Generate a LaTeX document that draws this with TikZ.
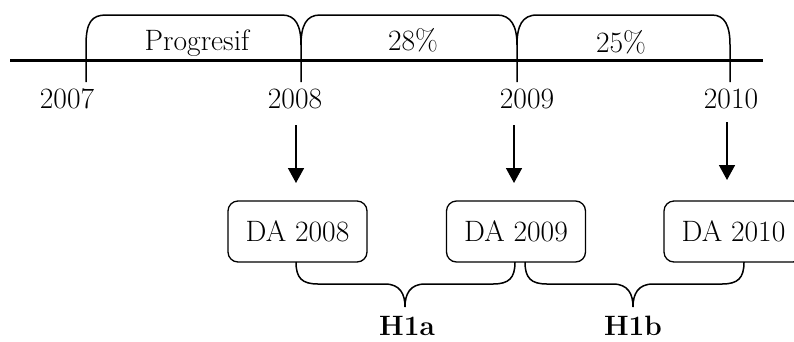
\documentclass[tikz,border=0pt]{standalone}
\usepackage{fontspec}
\usetikzlibrary{arrows.meta}
\begin{document}
\begin{tikzpicture}[x=1pt,y=-1pt,
  lbl/.style={inner sep=0pt,font=\fontsize{29.5}{33}\selectfont},
  blbl/.style={inner sep=0pt,font=\fontsize{28}{32}\selectfont\bfseries},
  dabox/.style={draw,line width=1.3pt,rounded corners=10pt,minimum width=139pt,minimum height=61pt,inner sep=0pt,font=\fontsize{29.5}{33}\selectfont},
  brc/.style={line width=1.5pt},
  arr/.style={line width=1.6pt,-{Triangle[width=16pt,length=15pt]}}]
\useasboundingbox (0,0) rectangle (794,341);
\clip (0,0) rectangle (794,341);
% timeline
\coordinate (L) at (10,60);
\coordinate (R) at (763,60);
\draw[line width=3pt] (L) -- (R);
% tick coordinates
\coordinate (t7) at (86,82);
\coordinate (t8) at (301,82);
\coordinate (t9) at (517,82);
\coordinate (t10) at (730,82);
% top braces
\draw[brc] (t7) -- (86,45) .. controls (86,22) and (92,15) .. (106,15) -- (282,15) .. controls (296,15) and (301,26) .. (301,45) -- (t8);
\draw[brc] (301,45) .. controls (301,26) and (306,15) .. (320,15) -- (497,15) .. controls (511,15) and (517,26) .. (517,45) -- (t9);
\draw[brc] (517,45) .. controls (517,26) and (522,15) .. (537,15) -- (712,15) .. controls (725,15) and (730,26) .. (730,45) -- (t10);
% brace labels
\node[lbl,anchor=base] (p) at (197,50) {Progresif};
\node[lbl,anchor=base] (p28) at (413,50) {28\%};
\node[lbl,anchor=base] (p25) at (621,52) {25\%};
% years
\node[lbl,anchor=base] (y7) at (67,108) {2007};
\node[lbl,anchor=base] (y8) at (295,108) {2008};
\node[lbl,anchor=base] (y9) at (527,108) {2009};
\node[lbl,anchor=base] (y10) at (731,108) {2010};
% boxes
\node[dabox] (d8) at (297.5,231.5) {DA 2008};
\node[dabox] (d9) at (516,231.5) {DA 2009};
\node[dabox] (d10) at (733.5,231.5) {DA 2010};
% arrows
\coordinate (a8) at (296,125);
\coordinate (a9) at (514,125);
\coordinate (a10) at (727,122);
\draw[arr] (a8) -- (296,183);
\draw[arr] (a9) -- (514,183);
\draw[arr] (a10) -- (727,180);
% bottom braces
\draw[brc] (296,262) .. controls (296,278) and (302,284) .. (318,284) -- (385,284) .. controls (400,284) and (405,294) .. (405,307)
  .. controls (405,294) and (410,284) .. (425,284) -- (493,284) .. controls (509,284) and (515,278) .. (515,262);
\draw[brc] (525,262) .. controls (525,278) and (531,284) .. (547,284) -- (613,284) .. controls (628,284) and (633,294) .. (633,307)
  .. controls (633,294) and (638,284) .. (653,284) -- (722,284) .. controls (738,284) and (744,278) .. (744,262);
% labels
\node[blbl,anchor=base] (h1a) at (407,335) {H1a};
\node[blbl,anchor=base] (h1b) at (633,335) {H1b};
\end{tikzpicture}
\end{document}
